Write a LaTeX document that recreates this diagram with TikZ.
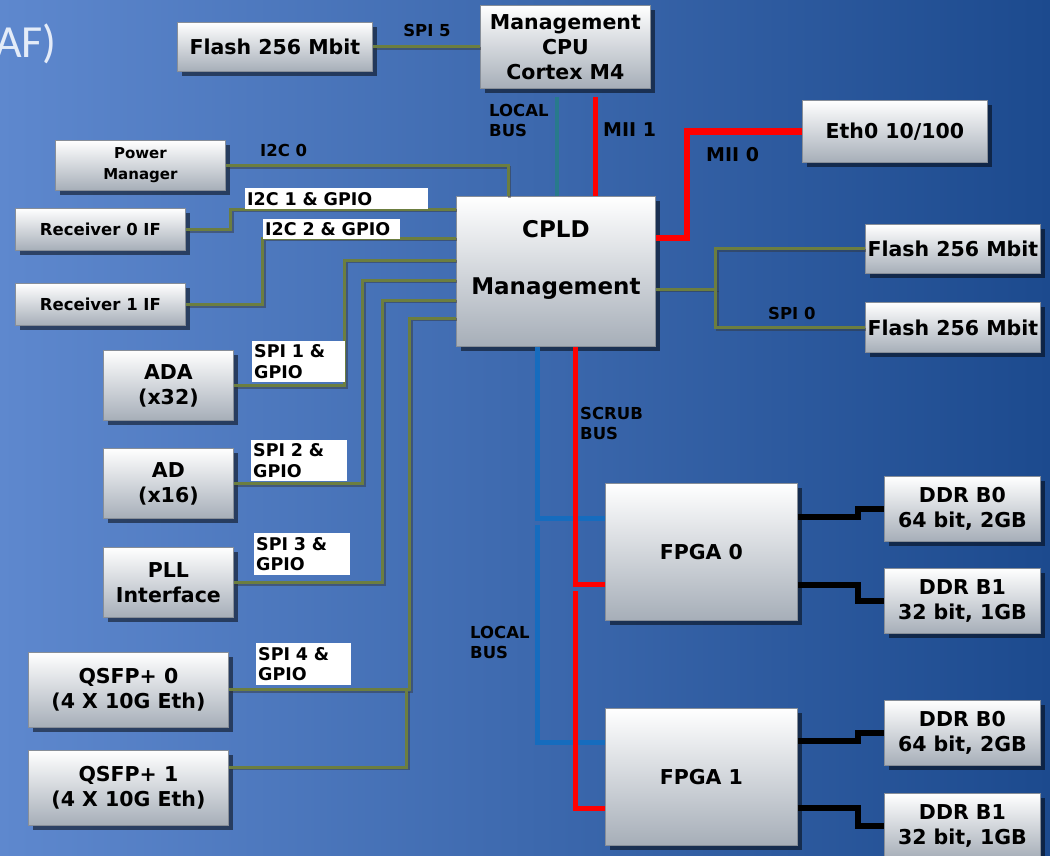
\documentclass[tikz,border=0pt]{standalone}
\usepackage{fontspec}
\setmainfont{DejaVu Sans}
\newfontfamily\titlefont{Carlito}
\usetikzlibrary{shadows,calc}
\definecolor{bgL}{RGB}{94,136,206}
\definecolor{bgM}{RGB}{62,106,176}
\definecolor{bgR}{RGB}{28,74,142}
\definecolor{boxbot}{RGB}{166,174,184}
\definecolor{boxedge}{RGB}{135,142,152}
\definecolor{olive}{RGB}{108,126,64}
\definecolor{busblue}{RGB}{22,108,190}
\definecolor{teal}{RGB}{40,122,140}
\definecolor{titlecol}{RGB}{228,236,248}
\tikzset{
  box/.style={draw=boxedge, line width=0.8pt, top color=white, bottom color=boxbot,
    drop shadow={shadow xshift=5pt, shadow yshift=-5pt, fill=black, opacity=0.5},
    anchor=north west, inner sep=0pt, align=center, text=black,
    font=\bfseries\fontsize{20.5}{25}\selectfont},
  smallbox/.style={box, font=\bfseries\fontsize{15}{21}\selectfont},
  rxbox/.style={box, font=\bfseries\fontsize{16.5}{20}\selectfont},
  lbl/.style={font=\bfseries\fontsize{16.5}{20}\selectfont, text=black, inner sep=0pt, align=left},
  wlbl/.style={fill=white, anchor=north west, inner xsep=2pt, inner ysep=0pt, align=left,
    font=\bfseries\fontsize{17.5}{20.5}\selectfont, text=black},
  gline/.style={draw=olive, line width=3pt,
    preaction={draw=black!80, opacity=0.45, line width=3pt, transform canvas={xshift=1.2pt,yshift=-1.6pt}}},
  rline/.style={draw=red, line width=5pt},
  bline/.style={draw=busblue, line width=5pt},
  tline/.style={draw=teal, line width=4pt},
  kline/.style={draw=black, line width=6pt},
}
\begin{document}
\begin{tikzpicture}[x=1pt,y=-1pt]
\shade[left color=bgL, middle color=bgM, right color=bgR] (0,0) rectangle (1050,855);
\useasboundingbox (0,0) rectangle (1050,855);

\node[font=\titlefont\fontsize{46}{50}\selectfont, text=titlecol, anchor=base east, inner sep=0pt] (title) at (57,57) {AF)};

% nodes
\node[box, minimum width=195pt, minimum height=49pt] (fla) at (177,22) {Flash 256 Mbit};
\node[box, minimum width=170pt, minimum height=83pt] (cpu) at (480,5) {Management\\CPU\\Cortex M4};
\node[box, minimum width=185pt, minimum height=62pt] (eth) at (802,100) {Eth0 10/100};
\node[smallbox, minimum width=170pt, minimum height=50pt] (pm) at (55,140) {Power\\Manager};
\node[rxbox, minimum width=170pt, minimum height=42pt] (rx0) at (15,208) {Receiver 0 IF};
\node[rxbox, minimum width=170pt, minimum height=42pt] (rx1) at (15,283) {Receiver 1 IF};
\node[box, minimum width=199pt, minimum height=150pt, font=\bfseries\fontsize{23}{27}\selectfont] (cpld) at (456,196) {CPLD\\[30pt]Management\\~};
\node[box, minimum width=175pt, minimum height=49pt] (flb) at (865,224) {Flash 256 Mbit};
\node[box, minimum width=175pt, minimum height=50pt] (flc) at (865,302) {Flash 256 Mbit};
\node[box, minimum width=130pt, minimum height=70pt] (ada) at (103,350) {ADA\\(x32)};
\node[box, minimum width=130pt, minimum height=70pt] (ad) at (103,448) {AD\\(x16)};
\node[box, minimum width=130pt, minimum height=70pt] (pll) at (103,547) {PLL\\Interface};
\node[box, minimum width=200pt, minimum height=75pt] (q0) at (28,652) {QSFP+ 0\\(4 X 10G Eth)};
\node[box, minimum width=200pt, minimum height=75pt] (q1) at (28,750) {QSFP+ 1\\(4 X 10G Eth)};
\node[box, minimum width=192pt, minimum height=137pt] (fp0) at (605,483) {FPGA 0};
\node[box, minimum width=192pt, minimum height=137pt] (fp1) at (605,708) {FPGA 1};
\node[box, minimum width=156pt, minimum height=65pt] (d00) at (884,476) {DDR B0\\64 bit, 2GB};
\node[box, minimum width=156pt, minimum height=65pt] (d01) at (884,568) {DDR B1\\32 bit, 1GB};
\node[box, minimum width=156pt, minimum height=65pt] (d10) at (884,700) {DDR B0\\64 bit, 2GB};
\node[box, minimum width=156pt, minimum height=65pt] (d11) at (884,793) {DDR B1\\32 bit, 1GB};

% connectors
\draw[gline] (fla.east) -- (cpu.west |- fla.east);
\draw[tline] ($(cpu.south west)+(77,8)$) -- ($(cpld.north west)+(101,0)$);
\draw[rline] ($(cpu.south west)+(115,8)$) -- ($(cpld.north west)+(139,0)$);
\draw[rline, line width=6.5pt] ($(cpld.north east)+(0,42)$) -- ++(31,0) |- (eth.west);
\draw[gline] (pm.east) -| ($(cpld.north west)+(52,0)$);
\draw[gline] (rx0.east) -- ++(45,0) |- ($(cpld.north west)+(0,13)$);
\draw[gline] (rx1.east) -- ++(77,0) |- ($(cpld.north west)+(0,42)$);
\draw[gline] (ada.east) -- ++(111,0) |- ($(cpld.north west)+(0,64)$);
\draw[gline] (ad.east) -- ++(129,0) |- ($(cpld.north west)+(0,84)$);
\draw[gline] (pll.east) -- ++(149,0) |- ($(cpld.north west)+(0,104)$);
\draw[gline] (q0.east) -- ++(181,0) |- ($(cpld.north west)+(0,122)$);
\draw[gline] ($(q1.north east)+(0,17)$) -| ($(q0.east)+(178,0)$);
\draw[gline] ($(cpld.north east)+(0,93)$) -- ++(60,0) coordinate (sj) |- (flb.west);
\draw[gline] (sj) |- (flc.west);
\draw[bline] ($(cpld.south west)+(81,0)$) |- ($(fp0.north west)+(0,35)$);
\draw[bline] ($(cpld.south west)+(81,178)$) |- ($(fp1.north west)+(0,34)$);
\draw[rline] ($(cpld.south west)+(119,0)$) |- ($(fp0.north west)+(0,101)$);
\draw[rline] ($(cpld.south west)+(119,244)$) |- ($(fp1.north west)+(0,100)$);
\draw[kline] ($(fp0.north east)+(0,34)$) -- ++(60,0) |- (d00.west);
\draw[kline] ($(fp0.north east)+(0,102)$) -- ++(60,0) |- (d01.west);
\draw[kline] ($(fp1.north east)+(0,33)$) -- ++(60,0) |- (d10.west);
\draw[kline] ($(fp1.north east)+(0,100)$) -- ++(60,0) |- (d11.west);

% labels
\node[lbl] (l5) at (427,30) {SPI 5};
\node[lbl, anchor=north west] (llb1) at (489,104) {LOCAL\\BUS};
\node[lbl, font=\bfseries\fontsize{19}{22}\selectfont, anchor=west] (lm1) at (603,130) {MII 1};
\node[lbl, font=\bfseries\fontsize{19}{22}\selectfont, anchor=west] (lm0) at (706,155) {MII 0};
\node[lbl, anchor=west] (li0) at (260,150) {I2C 0};
\node[lbl, anchor=west] (ls0) at (768,313) {SPI 0};
\node[lbl, anchor=north west] (lsb) at (580,407) {SCRUB\\BUS};
\node[lbl, anchor=north west] (llb2) at (470,626) {LOCAL\\BUS};
\node[wlbl, text width=179pt, minimum height=21pt] (w1) at (245,188) {I2C 1 \& GPIO};
\node[wlbl, text width=133pt, minimum height=20pt] (w2) at (263,219) {I2C 2 \& GPIO};
\node[wlbl, text width=89pt, minimum height=41pt] (w3) at (252,341) {SPI 1 \&\\GPIO};
\node[wlbl, text width=92pt, minimum height=41pt] (w4) at (251,440) {SPI 2 \&\\GPIO};
\node[wlbl, text width=92pt, minimum height=42pt] (w5) at (254,533) {SPI 3 \&\\GPIO};
\node[wlbl, text width=91pt, minimum height=42pt] (w6) at (256,643) {SPI 4 \&\\GPIO};
\end{tikzpicture}
\end{document}
